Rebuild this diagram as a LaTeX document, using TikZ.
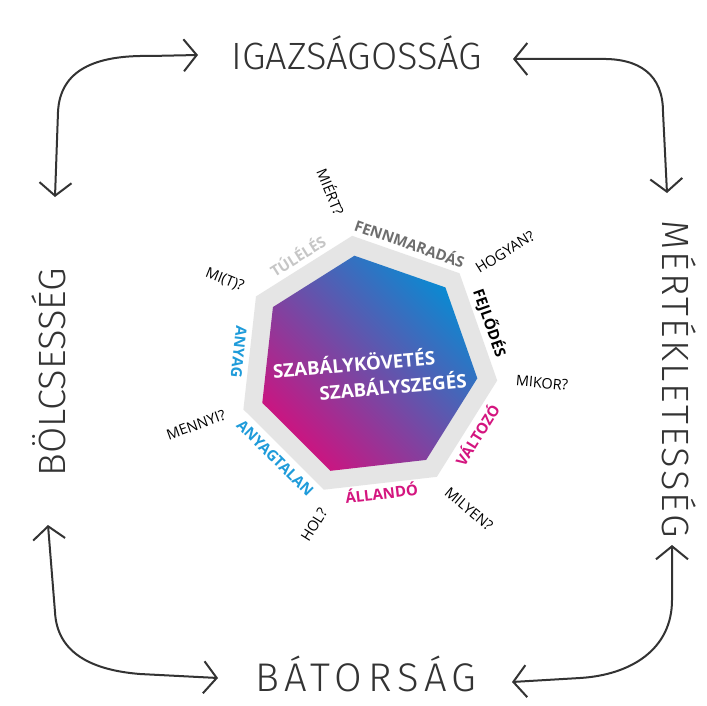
\documentclass[tikz,border=0pt]{standalone}
\usepackage{fontspec}
\setmainfont{Open Sans}
\IfFontExistsTF{Fira Sans Light}{\newfontfamily\hand{Fira Sans Light}}{\newfontfamily\hand{Fira Sans}}
\usetikzlibrary{arrows.meta,calc}
\definecolor{mag}{HTML}{CC1480}
\definecolor{blu}{HTML}{0A8AD2}
\definecolor{bandgray}{HTML}{E5E5E5}
\definecolor{lblblue}{HTML}{1E9BDA}
\definecolor{lblmag}{HTML}{D4157F}
\definecolor{lbldark}{HTML}{6E6E6E}
\definecolor{lbllight}{HTML}{C6C6C6}
\definecolor{ink}{HTML}{333333}
\tikzset{
  lab/.style={font=\bfseries\fontsize{15}{16}\selectfont, text height=10.7pt, text depth=0pt, inner sep=0pt},
  quest/.style={font=\fontsize{14.5}{15}\selectfont, text height=10.3pt, text depth=0pt, inner sep=0pt, text=black},
  core/.style={font=\bfseries\fontsize{18.8}{19}\selectfont, text height=13.4pt, text depth=0pt, inner sep=0pt, text=white},
  handw/.style={font=\hand\fontsize{38}{40}\selectfont, text=ink, inner sep=0pt, text height=27pt, text depth=0pt},
  sketch/.style={draw=ink, line width=2pt, line cap=round, line join=round,
    arrows={Straight Barb[length=13pt,width=32pt,line width=2pt]-Straight Barb[length=13pt,width=32pt,line width=2pt]}}
}
\begin{document}
\begin{tikzpicture}[x=1pt,y=-1pt]
\fill[white] (0,0) rectangle (707,706);
\useasboundingbox (0,0) rectangle (707,706);
\coordinate (c) at (367,366);
% gray band
\fill[bandgray] ($(c)+(-96.5:131)$) \foreach \k in {1,...,6}{ -- ($(c)+(-96.5+51.4286*\k:131)$)} -- cycle;
% gradient heptagon
\shade[left color=mag, right color=blu, shading angle=135] ($(c)+(-96.5:111)$) \foreach \k in {1,...,6}{ -- ($(c)+(-96.5+51.4286*\k:111)$)} -- cycle;
% core text
\node[core, rotate=5] (core1) at (354,365) {SZABÁLYKÖVETÉS};
\node[core, rotate=5] (core2) at (393,387) {SZABÁLYSZEGÉS};
% edge labels
\node[lab, text=lbldark, rotate=-19.2] (fenn) at ($(c)+(-70.8:129)$) {FENNMARADÁS};
\node[lab, text=black, rotate=-70.6] (fejl) at ($(c)+(-19.4:130)$) {FEJLŐDÉS};
\node[lab, text=lblmag, rotate=57.9] (valt) at ($(c)+(32.1:131)$) {VÁLTOZÓ};
\node[lab, text=lblmag, rotate=6.5] (alla) at ($(c)+(83.5:129)$) {ÁLLANDÓ};
\node[lab, text=lblblue, rotate=-44.9] (anyt) at ($(c)+(134.9:130)$) {ANYAGTALAN};
\node[lab, text=lblblue, rotate=-96.3] (anyg) at ($(c)+(186.3:129)$) {ANYAG};
\node[lab, text=lbllight, rotate=32.2] (tule) at ($(c)+(237.8:129)$) {TÚLÉLÉS};
% questions
\node[quest, rotate=-68] (miert) at (330,192) {MIÉRT?};
\node[quest, rotate=32] (hogyan) at (505,252) {HOGYAN?};
\node[quest, rotate=-5] (mikor) at (542,383) {MIKOR?};
\node[quest, rotate=-40] (milyen) at (469,509) {MILYEN?};
\node[quest, rotate=58] (hol) at (314,525) {HOL?};
\node[quest, rotate=20] (mennyi) at (196,425) {MENNYI?};
\node[quest, rotate=-22] (mit) at (225,279) {MI(T)?};
% hand-written virtues
\node[handw] (igaz) at (357,56) {IGAZSÁGOSSÁG};
\node[handw, font=\hand\fontsize{40}{42}\selectfont\addfontfeature{LetterSpace=14}] (bator) at (366,678) {BÁTORSÁG};
\node[handw, rotate=90] (bolcs) at (52,372) {BÖLCSESSÉG};
\node[handw, rotate=-90, font=\hand\fontsize{38}{40}\selectfont\addfontfeature{LetterSpace=6}] (mert) at (676,379) {MÉRTÉKLETESSÉG};
% arrow ends
\coordinate (tla) at (198,55);
\coordinate (tlb) at (55,197);
\coordinate (tra) at (513,59);
\coordinate (trb) at (667,193);
\coordinate (bla) at (48,525);
\coordinate (blb) at (218,678);
\coordinate (bra) at (672,545);
\coordinate (brb) at (512,682);
\draw[sketch] (tla) -- (150,56) .. controls (95,55) and (60,70) .. (58,112) -- (tlb);
\draw[sketch] (tra) -- (600,59) .. controls (640,58) and (663,75) .. (663,112) -- (trb);
\draw[sketch] (bla) -- (55,612) .. controls (57,652) and (90,670) .. (140,674) -- (blb);
\draw[sketch] (bra) -- (672,600) .. controls (672,650) and (630,675) .. (580,678) -- (brb);
\end{tikzpicture}
\end{document}
